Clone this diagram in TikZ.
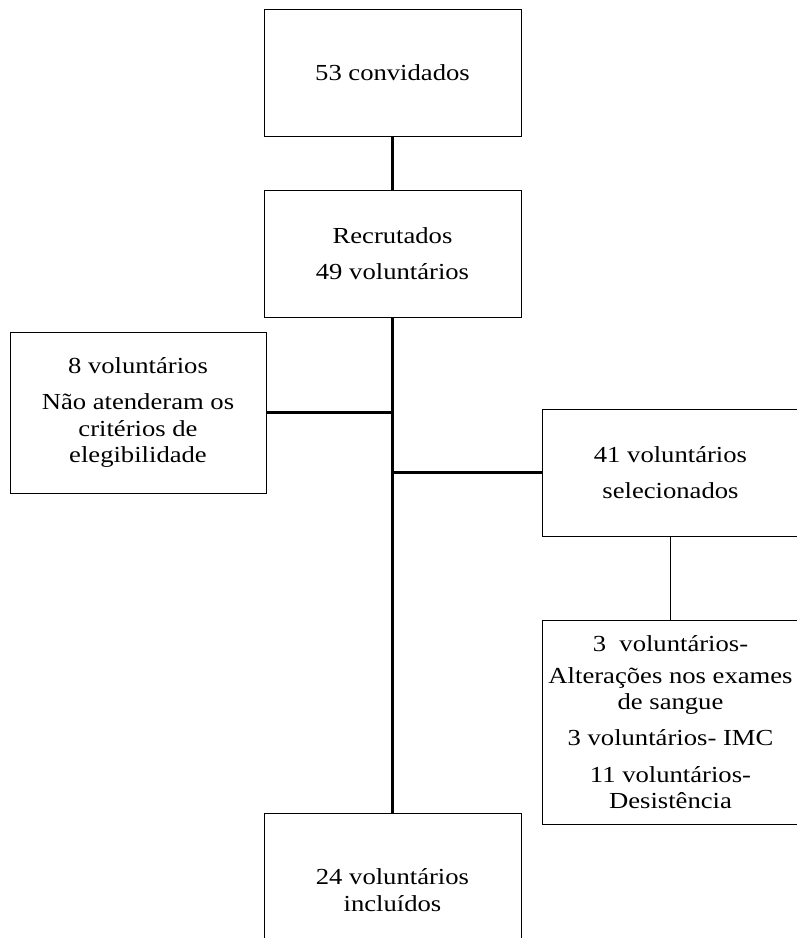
\documentclass[tikz,border=0pt]{standalone}
\usepackage{fontspec}
\setmainfont[FakeStretch=1.16]{Liberation Serif}

\begin{document}
\begin{tikzpicture}[x=0.03cm, y=-0.03cm,
  box/.style={draw, line width=0.8pt, align=center, inner sep=0pt, font=\fontsize{19.6}{22.5}\selectfont},
  link/.style={line width=2pt},
  thin link/.style={line width=0.9pt}]

\useasboundingbox (0,0) rectangle (797,938);

\node[box, minimum width=7.71cm, minimum height=3.81cm] (convidados) at (392.5, 72.5) {53 convidados};
\node[box, minimum width=7.71cm, minimum height=3.81cm] (recrutados) at (392.5, 253.5) {Recrutados\\[8.5pt]49 voluntários};

\node[box, minimum width=7.68cm, minimum height=4.83cm] (nao elegiveis) at (138, 412.5) {8 voluntários\\[8.5pt]Não atenderam os\\critérios de\\elegibilidade};
\node[box, minimum width=7.68cm, minimum height=3.81cm] (selecionados) at (670.5, 472.5) {41 voluntários\\[8.5pt]selecionados};

\node[box, minimum width=7.68cm, minimum height=6.12cm] (exclusoes) at (670.5, 722) {3~ voluntários-\\[5pt]Alterações nos exames\\de sangue\\[8.5pt]3 voluntários- IMC\\[8.5pt]11 voluntários-\\Desistência};

\node[box, minimum width=7.71cm, minimum height=4.62cm] (incluidos) at (392.5, 890) {24 voluntários\\incluídos};

\coordinate (left join) at (recrutados.south |- nao elegiveis.east);
\coordinate (right join) at (recrutados.south |- selecionados.west);

\draw[link] (convidados) -- (recrutados);
\draw[link] (recrutados) -- (incluidos);
\draw[link] (nao elegiveis.east) -- (left join);
\draw[link] (right join) -- (selecionados.west);
\draw[thin link] (selecionados) -- (exclusoes);

\end{tikzpicture}
\end{document}
